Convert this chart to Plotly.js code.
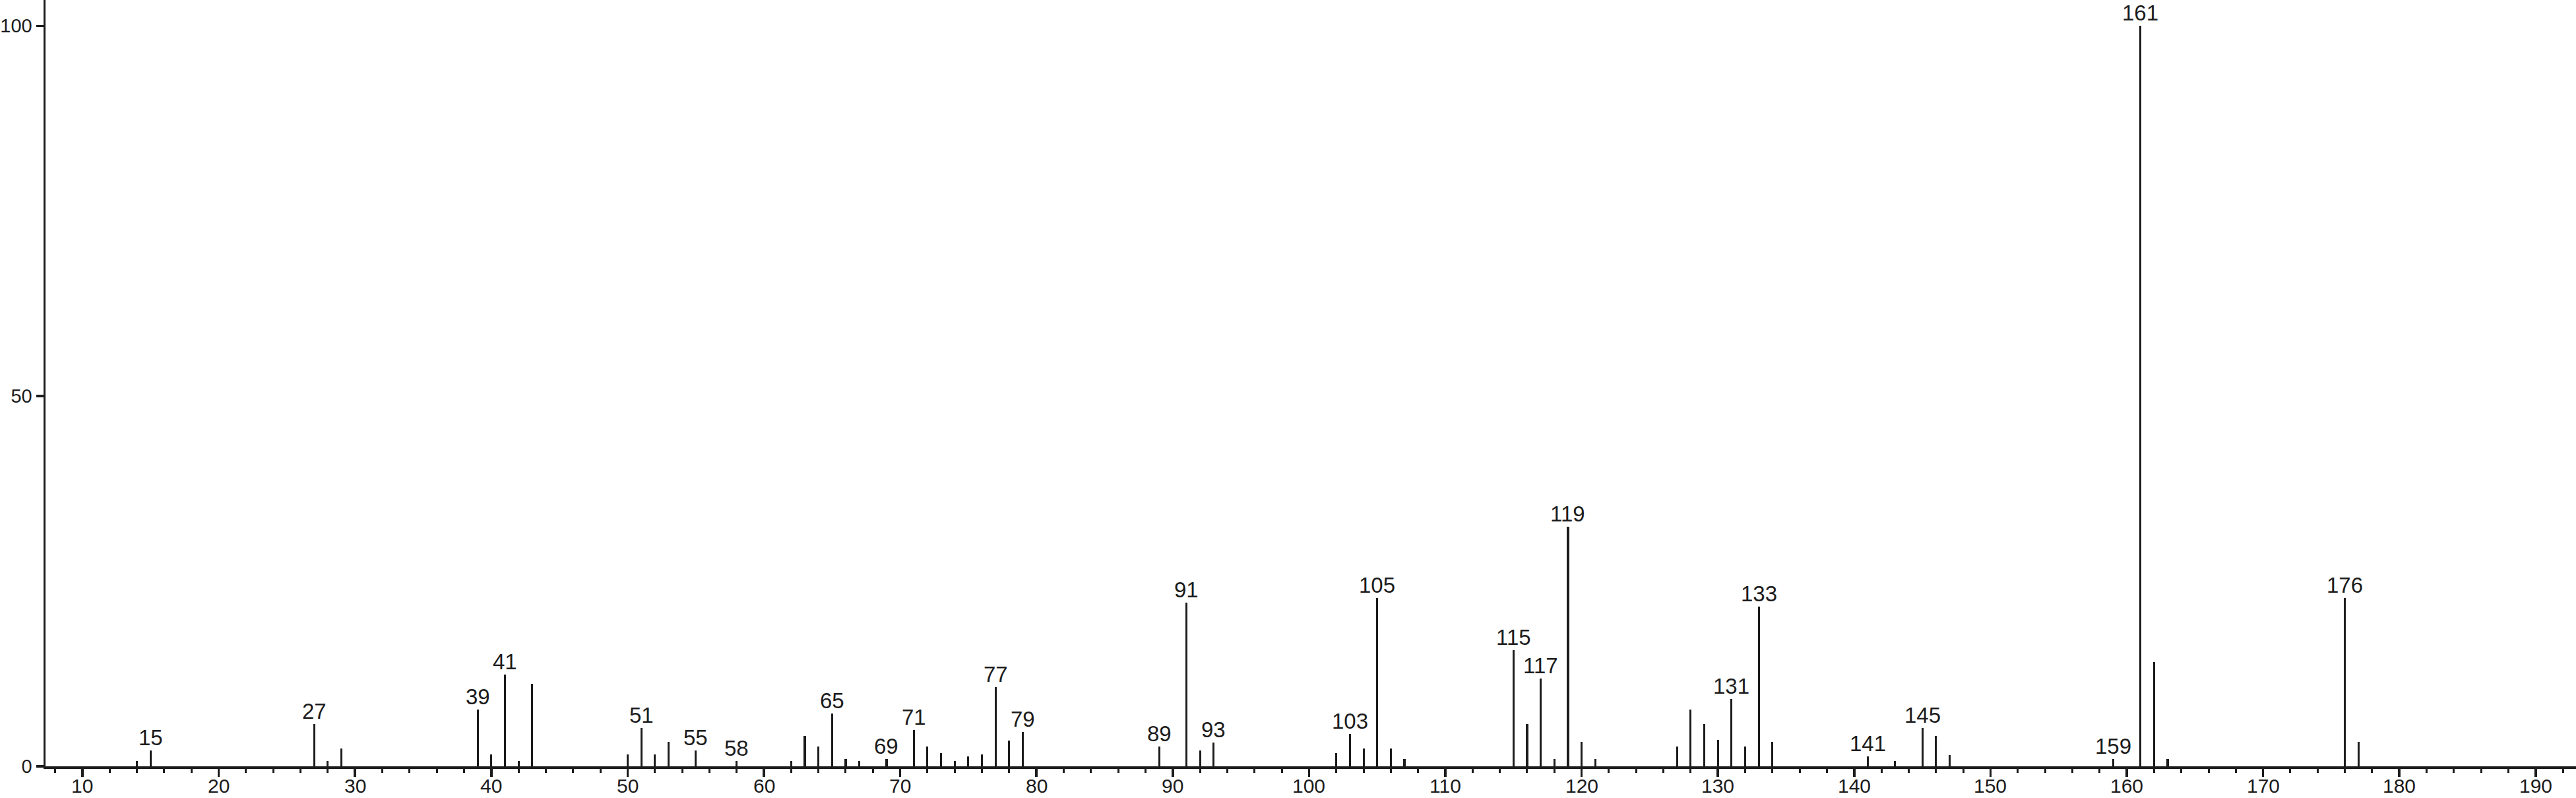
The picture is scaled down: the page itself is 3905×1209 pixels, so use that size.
<!DOCTYPE html>
<html>
<head>
<meta charset="utf-8">
<script src="https://cdn.plot.ly/plotly-3.0.1.min.js"></script>
<style>
  html, body { margin: 0; padding: 0; background: #ffffff; }
  #chart { width: 3905px; height: 1209px; }
</style>
</head>
<body>
<div id="chart"></div>
<script>
// m/z values of the peaks
const mz = [14, 15, 27, 28, 29, 39, 40, 41, 42, 43, 50, 51, 52, 53, 55, 58, 62, 63, 64, 65,
            66, 67, 69, 71, 72, 73, 74, 75, 76, 77, 78, 79, 89, 91, 92, 93, 102, 103, 104, 105,
            106, 107, 115, 116, 117, 118, 119, 120, 121, 127, 128, 129, 130, 131, 132, 133, 134,
            141, 143, 145, 146, 147, 159, 161, 162, 163, 176, 177];
// relative intensities (%)
const intensity = [0.7, 2.1, 5.7, 0.7, 2.4, 7.7, 1.6, 12.4, 0.7, 11.1, 1.6, 5.2, 1.6, 3.3, 2.1, 0.7, 0.7, 4.1, 2.7, 7.1,
                   1.0, 0.7, 1.0, 4.9, 2.7, 1.8, 0.7, 1.3, 1.6, 10.7, 3.5, 4.6, 2.7, 22.1, 2.1, 3.2, 1.8, 4.4, 2.4, 22.7,
                   2.4, 1.0, 15.7, 5.7, 11.9, 1.0, 32.4, 3.3, 1.0, 2.7, 7.7, 5.7, 3.6, 9.1, 2.7, 21.6, 3.3,
                   1.3, 0.7, 5.2, 4.1, 1.5, 1.0, 100, 14.1, 1.0, 22.7, 3.3];
// peaks that carry an m/z label
const labelledMz = [15, 27, 39, 41, 51, 55, 58, 65, 69, 71, 77, 79, 89, 91, 93, 103, 105,
                    115, 117, 119, 131, 133, 141, 145, 159, 161, 176];
// axis ticks
const xTickVals = [10, 20, 30, 40, 50, 60, 70, 80, 90, 100, 110, 120, 130, 140, 150, 160, 170, 180, 190];
const xMinorVals = [8, 12, 14, 16, 18, 22, 24, 26, 28, 32, 34, 36, 38, 42, 44, 46, 48, 52, 54, 56, 58,
                    62, 64, 66, 68, 72, 74, 76, 78, 82, 84, 86, 88, 92, 94, 96, 98, 102, 104, 106, 108,
                    112, 114, 116, 118, 122, 124, 126, 128, 132, 134, 136, 138, 142, 144, 146, 148,
                    152, 154, 156, 158, 162, 164, 166, 168, 172, 174, 176, 178, 182, 184, 186, 188, 192];
const yTickVals = [0, 50, 100];

const ink = '#1c1c1c';
const fontFam = '"Liberation Sans", Arial, Helvetica, sans-serif';

const trace = {
  type: 'bar',
  x: mz,
  y: intensity,
  width: 0.15,
  marker: { color: ink, line: { width: 0 } },
  hoverinfo: 'x+y'
};

const peakLabels = labelledMz.map(m => ({
  x: m,
  y: intensity[mz.indexOf(m)],
  xref: 'x', yref: 'y',
  text: String(m),
  showarrow: false,
  xanchor: 'center',
  yanchor: 'bottom',
  yshift: 0,
  borderpad: 0,
  font: { family: fontFam, size: 33, color: ink }
}));

// x tick labels placed just under the axis (kept inside the picture)
const xTickLabels = xTickVals.map(v => ({
  x: v,
  y: 0,
  xref: 'x', yref: 'y',
  text: String(v),
  showarrow: false,
  xanchor: 'center',
  yanchor: 'top',
  yshift: -12,
  borderpad: 0,
  font: { family: fontFam, size: 30, color: ink }
}));

const layout = {
  width: 3905,
  height: 1209,
  margin: { l: 69, r: 0, t: 0, b: 48, pad: 0 },
  paper_bgcolor: '#ffffff',
  plot_bgcolor: '#ffffff',
  showlegend: false,
  bargap: 0,
  xaxis: {
    range: [7.29, 192.96],
    tickmode: 'array',
    tickvals: xTickVals,
    showticklabels: false,
    ticks: 'outside',
    ticklen: 12,
    tickwidth: 3.5,
    tickcolor: ink,
    minor: { tickmode: 'array', tickvals: xMinorVals, ticks: 'outside', ticklen: 6, tickwidth: 3, tickcolor: ink, showgrid: false },
    showline: true,
    linecolor: ink,
    linewidth: 3.5,
    showgrid: false,
    zeroline: false,
    fixedrange: true
  },
  yaxis: {
    range: [0, 103.5],
    tickmode: 'array',
    tickvals: yTickVals,
    ticktext: yTickVals.map(String),
    ticks: 'outside',
    ticklen: 11,
    tickwidth: 3.5,
    tickcolor: ink,
    showline: true,
    linecolor: ink,
    linewidth: 3.5,
    showgrid: false,
    zeroline: false,
    tickfont: { family: fontFam, size: 29, color: ink },
    fixedrange: true
  },
  annotations: peakLabels.concat(xTickLabels)
};

Plotly.newPlot('chart', [trace], layout, { displayModeBar: false, staticPlot: true });
</script>
</body>
</html>
